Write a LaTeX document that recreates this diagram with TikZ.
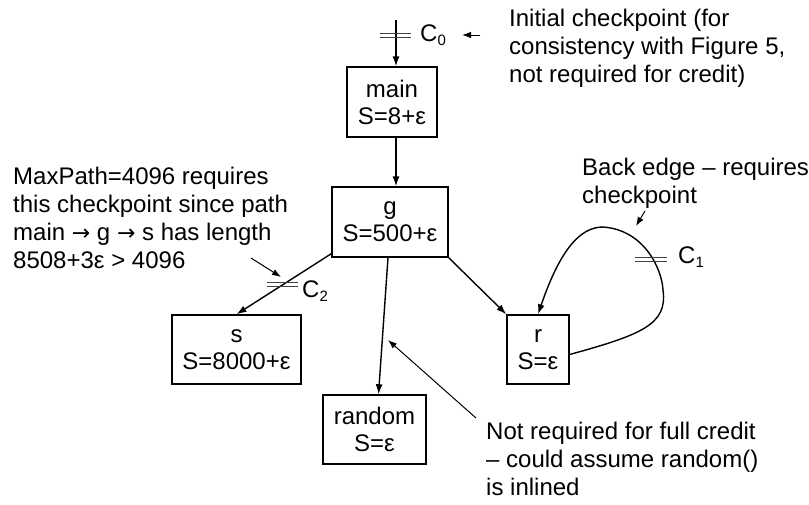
\documentclass[tikz,border=0pt]{standalone}
\usepackage{fontspec}
\setmainfont{Liberation Sans}
\newfontfamily\arrfont{DejaVu Sans}
\usetikzlibrary{arrows.meta}
\newcommand{\sbs}[1]{{\fontsize{15}{15}\selectfont\raisebox{-4pt}{#1}}}
\newcommand{\rar}{{\arrfont\fontsize{22}{28}\selectfont →}}
\begin{document}
\begin{tikzpicture}[x=1pt,y=-1pt,
  every node/.style={font=\fontsize{24}{28}\selectfont},
  box/.style={draw, line width=1.4pt, align=center, inner sep=0pt, font=\fontsize{24}{27}\selectfont},
  edge/.style={line width=1.4pt, -{Latex[length=10pt,width=7pt]}},
  note/.style={line width=1pt, -{Latex[length=9pt,width=6.5pt]}},
  cp/.style={line width=0.9pt, black!75},
  lbl/.style={anchor=base west, inner sep=0pt},
  txt/.style={anchor=north west, align=left, inner sep=0pt}]
\useasboundingbox[fill=white] (0,0) rectangle (809,504);

% boxes
\node[box, minimum width=90pt, minimum height=70pt] (main) at (392,102) {main\\S=8+ε};
\node[box, minimum width=116pt, minimum height=70pt] (g) at (390,222) {g\\S=500+ε};
\node[box, minimum width=129pt, minimum height=69pt] (s) at (236.5,349.5) {s\\S=8000+ε};
\node[box, minimum width=103pt, minimum height=69pt] (random) at (374.5,429.5) {random\\S=ε};
\node[box, minimum width=62pt, minimum height=69pt] (r) at (538,349.5) {r\\S=ε};

% annotations
\node[txt] (n0) at (509,9) {Initial checkpoint (for\\consistency with Figure 5,\\not required for credit)};
\node[txt] (n2) at (13,167) {MaxPath=4096 requires\\this checkpoint since path\\main \rar{} g \rar{} s has length\\8508+3ε > 4096};
\node[txt] (n1) at (582,158) {Back edge – requires\\checkpoint};
\node[txt] (n3) at (486,422) {Not required for full credit\\– could assume random()\\is inlined};

% checkpoint labels
\node[lbl] (c0) at (420,41) {C\sbs{0}};
\node[lbl] (c2) at (302,297) {C\sbs{2}};
\node[lbl] (c1) at (678,263) {C\sbs{1}};

% main edges
\coordinate (c0top) at (396,20);
\draw[edge] (c0top) -- (c0top |- main.north);
\draw[edge] (c0top |- main.south) -- (c0top |- g.north);
\draw[edge] ([yshift=4pt]g.south west) -- (s.north);
\draw[edge] ([xshift=-2pt]g.south) -- ([xshift=4pt]random.north);
\draw[edge] (g.south east) -- (r.north west);
\draw[edge] ([yshift=-5pt]r.east) .. controls (640,335) and (668,325) .. (663,290)
  .. controls (662,270) and (645,230) .. (603,227)
  .. controls (580,227) and (560,250) .. (r.north);

% checkpoint marks
\draw[cp] (380,33) -- (411,33) (380,37) -- (411,37);
\draw[cp] (267,282) -- (298,282) (267,286) -- (298,286);
\draw[cp] (635,257) -- (667,257) (635,261) -- (667,261);

% annotation arrows
\coordinate (a0s) at (480,35); \coordinate (a0e) at (462,35);
\draw[note] (a0s) -- (a0e);
\coordinate (a2s) at (251,258); \coordinate (a2e) at (281,277);
\draw[note] (a2s) -- (a2e);
\coordinate (a1s) at (645,211); \coordinate (a1e) at (636,226);
\draw[note] (a1s) -- (a1e);
\coordinate (a3s) at (476,418); \coordinate (a3e) at (388,340);
\draw[note] (a3s) -- (a3e);
\end{tikzpicture}
\end{document}
